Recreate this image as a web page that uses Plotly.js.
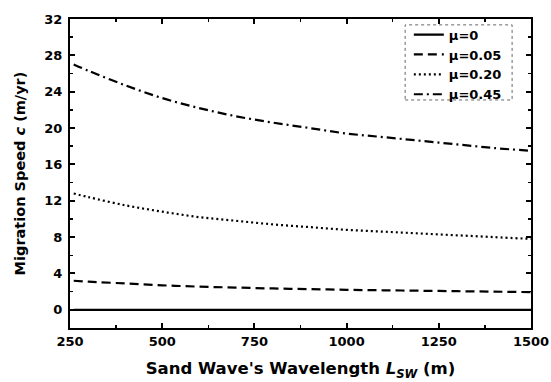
<!DOCTYPE html>
<html>
<head>
<meta charset="utf-8">
<script src="https://cdn.plot.ly/plotly-3.0.1.min.js"></script>
<style>html,body{margin:0;padding:0;background:#fff;}#chart{width:551px;height:382px;}</style>
</head>
<body>
<div id="chart"></div>
<script>
// Sand wave wavelength (m)
const wavelength = [260, 300, 400, 500, 600, 700, 800, 900, 1000, 1100, 1200, 1300, 1400, 1500];
// Migration speed c (m/yr)
const mu0    = [0, 0, 0, 0, 0, 0, 0, 0, 0, 0, 0, 0, 0, 0];
const mu005  = [3.2, 3.1, 2.9, 2.7, 2.55, 2.45, 2.35, 2.28, 2.2, 2.15, 2.1, 2.05, 2.0, 1.95];
const mu020  = [12.8, 12.4, 11.5, 10.8, 10.2, 9.8, 9.4, 9.1, 8.8, 8.6, 8.4, 8.2, 8.0, 7.8];
const mu045  = [27.0, 26.3, 24.7, 23.3, 22.2, 21.3, 20.6, 20.0, 19.4, 19.0, 18.6, 18.2, 17.8, 17.5];
const seriesNames = ['\u03bc=0', '\u03bc=0.05', '\u03bc=0.20', '\u03bc=0.45'];
const xTicks = [250, 500, 750, 1000, 1250, 1500];
const yTicks = [0, 4, 8, 12, 16, 20, 24, 28, 32];

const dashes = ['solid', '9px,5px', '2px,3px', '9px,4px,2px,4px'];
const ys = [mu0, mu005, mu020, mu045];
const traces = ys.map((y, i) => ({
  x: wavelength, y: y, type: 'scatter', mode: 'lines', name: seriesNames[i],
  line: {color: '#000', width: 2.2, dash: dashes[i], shape: 'spline'}
}));

const fam = 'DejaVu Sans, Liberation Sans, Arial, sans-serif';
const axisCommon = {
  showgrid: false, zeroline: false, showline: true, linecolor: '#000', linewidth: 2,
  mirror: 'allticks', ticks: 'inside', ticklen: 5, tickwidth: 2, tickcolor: '#000',
  tickfont: {family: fam, size: 13, color: '#000', weight: 'bold'}
};
const layout = {
  width: 551, height: 382,
  margin: {l: 70, r: 20, t: 19, b: 54},
  paper_bgcolor: '#fff', plot_bgcolor: '#fff',
  font: {family: fam, color: '#000', size: 13, weight: 'bold'},
  showlegend: true,
  legend: {x: 0.735, y: 0.998, xanchor: 'left', yanchor: 'top', bgcolor: 'rgba(0,0,0,0)',
           borderwidth: 0, font: {family: fam, size: 13, color: '#000', weight: 'bold'},
           itemwidth: 30, tracegroupgap: 0},
  xaxis: Object.assign({}, axisCommon, {
    range: [250, 1500], tickvals: xTicks, ticktext: xTicks.map(String),
    minor: {dtick: 125, tick0: 250, ticks: 'inside', ticklen: 3, tickwidth: 1.5, tickcolor: '#000'},
    title: {text: "Sand Wave's Wavelength <i>L</i><sub><i>SW</i></sub> (m)", standoff: 15,
            font: {family: fam, size: 16.5, color: '#000', weight: 'bold'}}
  }),
  yaxis: Object.assign({}, axisCommon, {
    range: [-2, 32], tickvals: yTicks, ticktext: yTicks.map(String), ticklabelstandoff: 3,
    minor: {dtick: 2, tick0: 0, ticks: 'inside', ticklen: 3, tickwidth: 1.5, tickcolor: '#000'},
    title: {text: 'Migration Speed <i>c</i> (m/yr)', standoff: 15,
            font: {family: fam, size: 14.5, color: '#000', weight: 'bold'}}
  }),
  shapes: [{type: 'rect', xref: 'paper', yref: 'paper', x0: 0.727, x1: 0.959, y0: 0.738, y1: 0.981,
            line: {color: '#666', width: 1, dash: 'dot'}, fillcolor: 'rgba(0,0,0,0)'}]
};
Plotly.newPlot('chart', traces, layout, {displayModeBar: false, staticPlot: true});
</script>
</body>
</html>
